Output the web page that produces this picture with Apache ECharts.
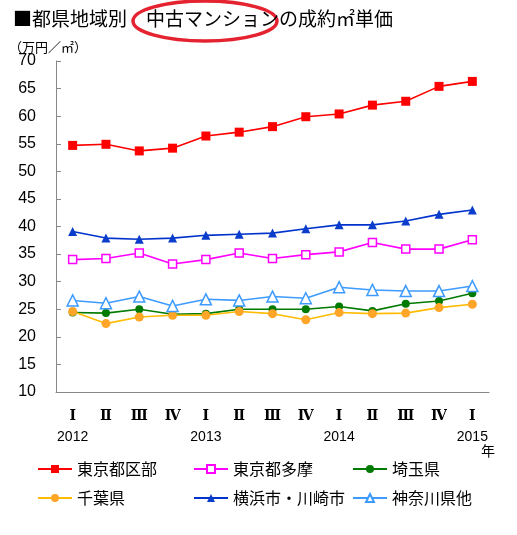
<!DOCTYPE html>
<html>
<head>
<meta charset="utf-8">
<script src="https://cdn.jsdelivr.net/npm/echarts@6/dist/echarts.min.js"></script>
<style>
  html,body{margin:0;padding:0;background:#fff;}
  #show{width:517px;height:535px;}
</style>
</head>
<body>
<div id="show"></div>
<script>
    var quarters = ['Ⅰ','Ⅱ','Ⅲ','Ⅳ','Ⅰ','Ⅱ','Ⅲ','Ⅳ','Ⅰ','Ⅱ','Ⅲ','Ⅳ','Ⅰ'];
    var years = ['2012','','','','2013','','','','2014','','','','2015'];
    var yTicks = [10,70,5];//min,max,interval

    var tokyoKu = [54.7,54.9,53.7,54.2,56.4,57.1,58.1,59.9,60.4,62.0,62.7,65.4,66.3];
    var tokyoTama = [34.0,34.2,35.2,33.2,34.0,35.2,34.2,34.9,35.4,37.1,35.9,35.9,37.6];
    var saitama = [24.4,24.3,25.0,24.1,24.2,25.0,25.0,25.0,25.5,24.7,26.0,26.5,27.9];
    var chiba = [24.6,22.4,23.6,23.9,23.9,24.6,24.2,23.1,24.4,24.2,24.3,25.3,25.9];
    var yokohama = [39.1,37.9,37.7,37.9,38.4,38.6,38.8,39.6,40.3,40.3,41.0,42.2,43.0];
    var kanagawa = [26.6,26.1,27.3,25.6,26.8,26.6,27.3,27.0,29.0,28.5,28.3,28.3,29.2];

    var jp = "'Noto Sans CJK JP','Noto Sans',sans-serif";
    var myChart = echarts.init(document.getElementById('show'));

    function line(name, data, color, symbol, size, symColor, fill) {
        return {
            name: name,
            type: 'line',
            data: data,
            symbol: symbol,
            symbolSize: size,
            showAllSymbol: true,
            lineStyle: {color: color, width: 1.6},
            itemStyle: {color: fill || symColor, borderColor: symColor, borderWidth: fill ? 1.5 : 0},
            color: symColor
        };
    }

    var option = {
        animation: false,
        backgroundColor: '#fff',
        title: {
            text: '■都県地域別　中古マンションの成約㎡単価',
            left: 8, top: 4,
            textStyle: {fontSize: 19, fontWeight: 'normal', color: '#000', fontFamily: jp}
        },
        graphic: [
            {type: 'ellipse', shape: {cx: 205, cy: 21, rx: 72, ry: 20},
             style: {fill: 'none', stroke: '#e52330', lineWidth: 3.5}},
            {type: 'text', left: 9, top: 41,
             style: {text: '（万円／㎡）', fontSize: 13, fill: '#000', fontFamily: jp}},
            {type: 'text', left: 481, top: 444,
             style: {text: '年', fontSize: 14, fill: '#000', fontFamily: jp}}
        ],
        grid: {left: 56, right: 28, top: 61, bottom: 143},
        legend: [
            {data: ['東京都区部','千葉県'], orient: 'vertical', left: 37, top: 461},
            {data: ['東京都多摩','横浜市・川崎市'], orient: 'vertical', left: 193, top: 461},
            {data: ['埼玉県','神奈川県他'], orient: 'vertical', left: 352, top: 461}
        ].map(function (l) {
            l.itemWidth = 34; l.itemHeight = 10; l.itemGap = 13; l.padding = 0;
            l.textStyle = {fontSize: 16, color: '#000', fontFamily: jp};
            return l;
        }),
        xAxis: {
            type: 'category',
            data: quarters,
            axisLine: {lineStyle: {color: '#888'}},
            axisTick: {inside: true, length: 5, lineStyle: {color: '#888'}},
            axisLabel: {
                interval: 0, margin: 13,
                formatter: function (v, i) {
                    return '{r|' + v + '}\n{y|' + (years[i] || ' ') + '}';
                },
                rich: {
                    r: {fontSize: 14, fontWeight: 'bold', color: '#000', fontFamily: "'DejaVu Serif','Liberation Serif',serif", height: 22},
                    y: {fontSize: 14, color: '#000', fontFamily: "'Liberation Sans',sans-serif", height: 20}
                }
            }
        },
        yAxis: {
            type: 'value',
            min: yTicks[0], max: yTicks[1], interval: yTicks[2],
            axisLine: {show: true, lineStyle: {color: '#888'}},
            axisTick: {show: true, inside: true, length: 5, lineStyle: {color: '#888'}},
            splitLine: {show: false},
            axisLabel: {fontSize: 16, color: '#000', margin: 20, fontFamily: "'Liberation Sans',sans-serif"}
        },
        series: [
            line('東京都区部', tokyoKu, '#ff0000', 'rect', 9, '#ff0000'),
            line('東京都多摩', tokyoTama, '#ff00ff', 'rect', 8, '#ff00ff', '#fff'),
            line('埼玉県', saitama, '#007a00', 'circle', 8, '#007a00'),
            line('千葉県', chiba, '#ffbb00', 'circle', 9, '#ffa528'),
            line('横浜市・川崎市', yokohama, '#0033cc', 'triangle', 9, '#0a3dcc'),
            line('神奈川県他', kanagawa, '#3d9bff', 'triangle', 11, '#3d9bff', '#fff')
        ]
    };
    myChart.setOption(option);
</script>
</body>
</html>
